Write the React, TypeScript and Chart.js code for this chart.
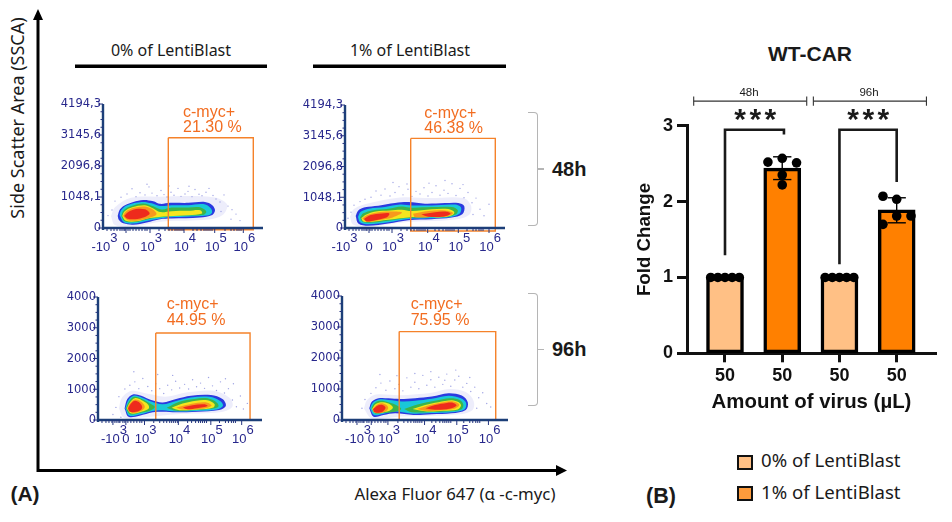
import React, { useEffect, useRef } from "react";
import { Chart, registerables } from "chart.js";

Chart.register(...registerables);

type Pt = [number, number];

// flow plots: x is display channel (biexponential axis), y is SSC-A
const xMinorTicks = [4, 8, 11, 14, 17, 19, 21, 22, 25, 27, 30, 33, 36, 39, 42, 44, 56, 62, 66, 69, 72, 74, 76, 78, 80, 90, 94, 98, 101, 103, 105, 107, 109, 122, 128, 131, 134, 136, 138];

const yTicksTop = [0, 1048.1, 2096.8, 3145.6, 4194.3];
const yTickLabelsTop = ["0", "1048,1", "2096,8", "3145,6", "4194,3"];
const yTicksBottom = [0, 1000, 2000, 3000, 4000];
const yTickLabelsBottom = ["0", "1000", "2000", "3000", "4000"];

const xTicksP1 = [0.3, 23, 47, 81, 111.7, 140.3];
const xTicksP2 = [-1.7, 24, 47, 82.7, 113.3, 144];
const xTicksP3 = [15, 28, 46.7, 80.7, 113.3, 144.3];
const xTicksP4 = [15, 29.3, 46, 82.7, 115, 146.7];
const xTickLabels: [string, string][] = [["-10", "3"], ["0", ""], ["10", "3"], ["10", "4"], ["10", "5"], ["10", "6"]];

const gateP1: Pt[] = [[65.3, 3052], [150.3, 3052], [150.3, -60], [65.3, -60], [65.3, 3052]];
const gateP2: Pt[] = [[65.7, 3055], [150.3, 3055], [150.3, -100], [65.7, -100], [65.7, 3055]];
const gateP3: Pt[] = [[58, 2829], [152.7, 2829], [152.7, 0], [58, 0], [58, 2829]];
const gateP4: Pt[] = [[57.3, 2851], [154, 2851], [154, 0], [57.3, 0], [57.3, 2851]];

const gatePercent = ["21.30 %", "46.38 %", "44.95 %", "75.95 %"];

// density outlines, low to high: halo, blue, cyan, green, yellow, orange, red
const densityColors = ["rgba(130,130,225,0.14)", "#2a3ae0", "#19c8d8", "#3cb54a", "#f5e61e", "#f8981d", "#ee2a1c"];

const p1Density: Pt[][][] = [
  [[[8, 400], [12, 700], [28, 1020], [55, 1060], [110, 1040], [124, 800], [120, 450], [105, 290], [60, 220], [30, 50], [12, 100]]],
  [[[14.7, 410], [17, 630], [22, 773], [30.3, 883], [40.3, 949], [50.3, 905], [57, 817], [67, 850], [85.3, 850], [102, 883], [109.3, 773], [112, 597], [109.3, 443], [97, 355], [68.7, 322], [57, 300], [43.7, 190], [30.3, 113], [20.3, 157], [16, 267]]],
  [[[16.5, 443], [18.3, 610], [24.3, 770], [38.7, 880], [48.7, 835], [57, 745], [68.7, 770], [85.3, 770], [100.3, 810], [107.5, 680], [109, 520], [104, 420], [82, 380], [62, 345], [43.7, 235], [30.3, 150], [21, 195]]],
  [[[18.3, 410], [20.3, 585], [27.7, 735], [40.3, 830], [50.3, 735], [58.7, 625], [68.7, 690], [85.3, 690], [97, 700], [103.3, 560], [100.7, 450], [82, 420], [63.7, 385], [45.3, 300], [32, 200], [21.7, 225]]],
  [[[19.3, 410], [21.7, 565], [29.3, 700], [42, 770], [50.3, 660], [57, 540], [68.7, 570], [85.3, 580], [97.3, 600], [99, 487], [85.3, 430], [65.3, 395], [47, 335], [33.7, 225], [22.7, 245]]],
  [[[20, 410], [23.2, 565], [31, 685], [42, 725], [50.2, 615], [53.5, 465], [48, 360], [35.3, 255], [25, 265]]],
  [[[21.2, 410], [25, 535], [33, 640], [42, 630], [46.7, 487], [42, 375], [32, 300], [24.8, 310]]],
];

const p2Density: Pt[][][] = [
  [[[5, 380], [9, 650], [25, 850], [55, 1040], [85, 1020], [118, 1020], [126, 760], [124, 440], [108, 280], [60, 200], [24, 40], [8, 120]]],
  [[[10.7, 410], [13.3, 597], [20, 707], [33.3, 762], [50, 850], [63.3, 883], [80, 828], [100, 850], [113.3, 850], [119.3, 740], [117.3, 465], [106.7, 355], [86.7, 300], [63.3, 267], [43.3, 157], [23.3, 80], [13.3, 157]]],
  [[[13, 377], [15.7, 550], [24, 660], [40, 715], [55, 800], [66.7, 770], [86.7, 770], [110, 800], [116, 700], [114.5, 487], [104.3, 370], [83.3, 335], [63.3, 310], [43.3, 200], [23.3, 130], [15, 200]]],
  [[[15, 355], [18.3, 500], [27.3, 600], [43.3, 655], [56.7, 735], [66.7, 690], [86.7, 712], [106.7, 712], [112.7, 610], [111, 465], [101, 372], [83.3, 370], [63.3, 338], [43.3, 245], [25, 178], [17.3, 225]]],
  [[[16.3, 333], [20.7, 455], [30.7, 565], [45, 600], [56.7, 625], [66.7, 580], [86.7, 640], [103.3, 645], [109.3, 540], [107, 435], [97.7, 372], [80, 372], [63.3, 360], [43.3, 280], [25, 205], [18.3, 225]]],
  [
    [[17.3, 322], [22.3, 440], [32.3, 525], [45, 560], [57, 525], [47.7, 360], [33.3, 268], [22.3, 215]],
    [[68, 487], [83.3, 580], [100, 600], [108, 515], [101, 395], [83.3, 370], [70, 370]],
  ],
  [
    [[19, 311], [25.7, 440], [36.7, 495], [44.3, 495], [42, 370], [30, 268], [21.7, 225]],
    [[76.3, 465], [90, 535], [101.7, 555], [105.5, 487], [99.3, 395], [83.3, 382]],
  ],
];

const p3Density: Pt[][][] = [
  [[[21, 370], [24, 720], [34, 950], [50, 850], [68, 760], [90, 900], [116, 950], [132, 720], [135, 440], [124, 260], [80, 190], [40, 70], [26, 70]]],
  [[[26.7, 378], [29.4, 680], [35, 832], [43.4, 788], [53.4, 648], [65, 572], [78.4, 680], [93.4, 788], [113.4, 810], [125, 680], [128.4, 464], [121.7, 324], [100, 270], [78.4, 248], [65, 270], [55, 248], [41.7, 140], [30.7, 108]]],
  [[[27.5, 378], [30.2, 630], [35.6, 790], [44, 735], [53.4, 600], [65, 510], [78.4, 620], [93.4, 735], [112, 755], [122.7, 620], [125.5, 464], [119.4, 345], [98.4, 295], [78.4, 275], [65, 315], [55, 295], [41.7, 180], [31.5, 140]]],
  [
    [[28.2, 378], [31.2, 605], [36.4, 755], [44, 680], [52.7, 525], [57, 421], [52.7, 310], [41.7, 228], [32.2, 185]],
    [[69, 400], [81.7, 595], [96.7, 685], [110, 705], [119.4, 565], [121, 443], [114.4, 365], [95, 320], [78.4, 298]],
  ],
  [
    [[28.9, 378], [31.9, 565], [37, 710], [43.9, 645], [50.4, 500], [51, 378], [44.4, 280], [33.5, 208]],
    [[74, 400], [85, 535], [98.4, 630], [110, 640], [117, 520], [116, 410], [100, 342], [81.7, 320]],
  ],
  [
    [[29.5, 378], [32.2, 545], [37.2, 665], [43, 600], [47, 432], [43.7, 300], [35, 230]],
    [[78.5, 400], [88.4, 485], [100, 565], [110, 565], [114, 464], [104.4, 362], [85, 340]],
  ],
  [
    [[30.2, 378], [33, 525], [37.2, 625], [42, 555], [44.4, 410], [41.5, 300], [35, 250], [31.6, 275]],
    [[85.2, 410], [95, 480], [106.7, 510], [110, 454], [99.4, 385], [90, 350]],
  ],
];

const p4Density: Pt[][][] = [
  [[[22, 370], [25, 640], [34, 820], [58, 800], [90, 880], [108, 1000], [124, 900], [132, 600], [130, 300], [110, 160], [60, 110], [30, 50]]],
  [[[27.3, 378], [30, 594], [36.6, 702], [46.6, 702], [58.3, 680], [73.3, 702], [90, 756], [106.6, 864], [120, 788], [126, 572], [124, 324], [110, 216], [90, 184], [71.6, 162], [53.3, 216], [41.6, 162], [31.6, 108]]],
  [[[28.1, 378], [30.8, 560], [37, 665], [46.6, 645], [60, 600], [73.3, 620], [90, 685], [106.6, 785], [119, 705], [124.3, 555], [122.6, 340], [109.3, 250], [88.3, 225], [71.6, 205], [53.3, 275], [41.6, 205], [32.1, 160]]],
  [
    [[29.5, 378], [32.1, 535], [38, 620], [46.6, 575], [56, 455], [59.3, 356], [54.3, 278], [41.6, 230], [33.5, 208]],
    [[62.3, 356], [76.6, 510], [93.3, 620], [108.3, 705], [118.3, 640], [121.6, 495], [119.3, 342], [105, 275], [86.6, 252], [70, 252]],
  ],
  [
    [[30.1, 356], [33.5, 505], [39, 575], [46.5, 530], [51, 410], [47.6, 298], [38.3, 230], [32.8, 230]],
    [[70.6, 356], [83.3, 485], [96.6, 575], [110, 640], [117, 570], [119.3, 464], [116, 342], [101.6, 295], [85, 275]],
  ],
  [
    [[30.8, 346], [34.5, 480], [39.1, 540], [44.5, 485], [46.3, 378], [42.6, 255], [35, 222]],
    [[75.1, 356], [88.3, 485], [101.6, 575], [111.6, 595], [117.5, 490], [112.6, 362], [96.6, 308], [83.3, 296]],
  ],
  [
    [[31.1, 346], [35.3, 462], [40, 490], [43.6, 400], [41, 278], [35, 232], [32.1, 255]],
    [[83.5, 378], [93.3, 485], [105, 552], [111.6, 552], [114.8, 464], [107.6, 362], [93.3, 330]],
  ],
];

// stray events outside the dense population, read by eye
const p1Strays: Pt[] = [[5, 420], [9, 610], [12, 910], [18, 1040], [24, 1150], [29, 1330], [33, 1060], [37, 1190], [42, 1120], [46, 1390], [49, 1180], [54, 1090], [58, 1270], [61, 1130], [64, 1050], [68, 1210], [71, 1110], [75, 1340], [78, 1070], [82, 1150], [85, 1240], [89, 1060], [92, 1300], [96, 1140], [99, 1090], [103, 1210], [106, 1340], [110, 1100], [113, 980], [117, 880], [121, 1120], [125, 740], [129, 620], [133, 470], [118, 560], [128, 300], [137, 250], [44, 1480], [66, 1420], [86, 1410]];
const p2Strays: Pt[] = [[3, 330], [6, 540], [9, 780], [15, 900], [20, 980], [26, 1050], [31, 1260], [36, 1120], [40, 1330], [45, 1090], [50, 1210], [54, 1410], [58, 1130], [63, 1320], [67, 1080], [71, 1250], [75, 1160], [79, 1370], [83, 1090], [87, 1210], [91, 1440], [95, 1120], [99, 1290], [103, 1180], [107, 1510], [111, 1110], [115, 1350], [119, 1030], [123, 1210], [127, 860], [131, 1020], [135, 640], [139, 420], [128, 460], [144, 810], [84, 1530], [62, 1500], [100, 1620], [118, 1480], [48, 1550]];
const p3Strays: Pt[] = [[18, 410], [21, 760], [27, 1010], [32, 1130], [37, 1240], [41, 1020], [45, 1350], [50, 1090], [54, 950], [58, 1180], [62, 1020], [66, 860], [70, 1130], [74, 980], [78, 1260], [82, 1040], [87, 1160], [91, 1010], [95, 1310], [99, 1080], [103, 1200], [107, 1030], [111, 1380], [115, 1110], [119, 960], [123, 1240], [127, 880], [131, 1020], [135, 650], [139, 430], [143, 780], [146, 360], [36, 1570], [60, 1480], [128, 1340], [136, 1180], [150, 540], [15, 180], [23, 90], [75, 1450]];
const p4Strays: Pt[] = [[20, 380], [23, 660], [29, 860], [34, 1040], [39, 1190], [44, 960], [48, 1260], [53, 1010], [57, 1150], [61, 940], [65, 1360], [69, 1060], [73, 1220], [77, 1010], [81, 1440], [85, 1120], [89, 1300], [93, 1060], [97, 1380], [101, 1150], [105, 1480], [109, 1090], [113, 1290], [117, 1410], [121, 1060], [125, 1180], [129, 920], [133, 1060], [137, 720], [141, 880], [145, 530], [135, 380], [128, 1370], [149, 420], [89, 1560], [114, 1610], [73, 1500], [55, 1430], [38, 1470], [103, 1280]];

// bar chart
const barPositions = [1, 2, 3, 4];
const barCategories = ["50", "50", "50", "50"];
const barValues = [1, 2.44, 1, 1.89];
const barColors = ["#ffc085", "#ff8000", "#ffc085", "#ff8000"];

const dotsX = [0.75, 0.875, 1, 1.125, 1.25, 1.75, 2, 2.25, 2, 2, 2.75, 2.875, 3, 3.125, 3.25, 3.76, 4, 4.25, 4, 3.76];
const dotsY = [1, 1, 1, 1, 1, 2.52, 2.57, 2.51, 2.35, 2.22, 1, 1, 1, 1, 1, 2.07, 2.03, 1.81, 1.81, 1.7];

const errorLow = [2.29, 1.72];
const errorHigh = [2.59, 2.05];
const errorX = [2, 4];

const sigLeft: Pt[] = [[1, 1.293], [1, 2.947], [2.03, 2.947], [2.03, 2.885]];
const sigRight: Pt[] = [[3, 1.175], [3, 2.947], [4, 2.947], [4, 2.258]];
const span48: Pt[][] = [[[0.453, 3.264], [0.453, 3.384]], [[0.453, 3.324], [2.428, 3.324]], [[2.428, 3.264], [2.428, 3.384]]];
const span96: Pt[][] = [[[2.544, 3.264], [2.544, 3.384]], [[2.544, 3.324], [4.52, 3.324]], [[4.52, 3.264], [4.52, 3.384]]];

const toXY = (pts: Pt[]) => pts.map(([x, y]) => ({ x, y }));

const axisColor = "#1c3f78";
const tickTextColor = "#27278c";

// draws the FCS-style axes with long and short ticks, and the raised exponents
const flowAxes = {
  id: "flowAxes",
  afterDraw(chart: any, _args: any, opts: any) {
    const { ctx, chartArea, scales } = chart;
    const { left, right, bottom, top } = chartArea;
    ctx.save();
    ctx.strokeStyle = axisColor;
    ctx.lineWidth = 2.4;
    ctx.beginPath();
    ctx.moveTo(left, top);
    ctx.lineTo(left, bottom + 2);
    ctx.moveTo(left - 1, bottom);
    ctx.lineTo(right, bottom);
    ctx.stroke();

    ctx.lineWidth = 1;
    ctx.strokeStyle = "#24357f";
    opts.yMinor.forEach((v: number) => {
      const p = scales.y.getPixelForValue(v);
      ctx.beginPath();
      ctx.moveTo(left - 2.5, p);
      ctx.lineTo(left, p);
      ctx.stroke();
    });
    opts.yTicks.forEach((v: number) => {
      const p = scales.y.getPixelForValue(v);
      ctx.beginPath();
      ctx.moveTo(left - 5, p);
      ctx.lineTo(left, p);
      ctx.stroke();
    });
    xMinorTicks.forEach((v) => {
      const p = scales.x.getPixelForValue(v);
      ctx.beginPath();
      ctx.moveTo(p, bottom);
      ctx.lineTo(p, bottom + 3);
      ctx.stroke();
    });
    opts.xTicks.forEach((v: number) => {
      const p = scales.x.getPixelForValue(v);
      if (p < left + 2) return;
      ctx.beginPath();
      ctx.moveTo(p, bottom);
      ctx.lineTo(p, bottom + 5);
      ctx.stroke();
    });

    ctx.fillStyle = tickTextColor;
    ctx.font = "11.5px 'DejaVu Sans'";
    ctx.textAlign = "right";
    ctx.textBaseline = "middle";
    opts.yTicks.forEach((v: number, i: number) => {
      ctx.fillText(opts.yLabels[i], left - 2, scales.y.getPixelForValue(v) + 0.5);
    });

    ctx.textAlign = "left";
    ctx.font = "13px 'Liberation Sans'";
    xTickLabels.forEach(([base, exp], i) => {
      const p = scales.x.getPixelForValue(opts.xTicks[i]);
      const w = ctx.measureText(base).width;
      ctx.fillText(base, p - (w + (exp ? 5 : 0)) / 2, bottom + 19);
      if (exp) ctx.fillText(exp, p - (w + 5) / 2 + w, bottom + 10);
    });
    ctx.restore();
  },
};

interface FlowPlotProps {
  box: { left: number; top: number; width: number; height: number };
  yMax: number;
  xTicks: number[];
  yTicks: number[];
  yLabels: string[];
  yMinor: number[];
  gate: Pt[];
  density: Pt[][][];
  strays: Pt[];
}

const PAD_LEFT = 58;
const PAD_BOTTOM = 34;

const FlowPlot: React.FC<FlowPlotProps> = ({ box, yMax, xTicks, yTicks, yLabels, yMinor, gate, density, strays }) => {
  const ref = useRef<HTMLCanvasElement | null>(null);

  useEffect(() => {
    if (!ref.current) return;
    const fills: any[] = [];
    density.forEach((polys, level) => {
      polys.forEach((poly) => {
        fills.push({
          data: toXY([...poly, poly[0]]),
          showLine: true,
          fill: "shape",
          backgroundColor: densityColors[level],
          borderWidth: 0,
          pointRadius: 0,
          tension: 0.35,
        });
      });
    });
    const chart = new Chart(ref.current, {
      type: "scatter",
      data: {
        datasets: [
          { data: toXY(gate), showLine: true, borderColor: "#f5822a", borderWidth: 1.4, pointRadius: 0, clip: false },
          { data: toXY(strays), backgroundColor: "#a0a4e4", pointRadius: 0.7, borderWidth: 0 },
          ...fills.reverse(),
        ],
      },
      options: {
        responsive: false,
        animation: false,
        layout: { padding: { left: PAD_LEFT, top: 8, right: 6, bottom: PAD_BOTTOM } },
        scales: {
          x: { type: "linear", display: false, min: 0, max: box.width },
          y: { type: "linear", display: false, min: 0, max: yMax },
        },
        plugins: {
          legend: { display: false },
          tooltip: { enabled: false },
          flowAxes: { xTicks, yTicks, yLabels, yMinor },
        } as any,
      },
      plugins: [flowAxes],
    } as any);
    return () => chart.destroy();
  }, []);

  return (
    <canvas
      ref={ref}
      width={PAD_LEFT + box.width + 6}
      height={8 + box.height + PAD_BOTTOM}
      style={{ position: "absolute", left: box.left - PAD_LEFT, top: box.top - 8, filter: "blur(0.35px)" }}
    />
  );
};

const BarPlot: React.FC = () => {
  const ref = useRef<HTMLCanvasElement | null>(null);

  useEffect(() => {
    if (!ref.current) return;
    const lineSet = (pts: Pt[], color: string, width: number) => ({
      type: "scatter",
      data: toXY(pts),
      showLine: true,
      borderColor: color,
      borderWidth: width,
      pointRadius: 0,
      clip: false,
    });
    const errorSets: any[] = [];
    errorX.forEach((x, i) => {
      errorSets.push(lineSet([[x, errorLow[i]], [x, errorHigh[i]]], "#000", 1.4));
      errorSets.push(lineSet([[x - 0.16, errorLow[i]], [x + 0.16, errorLow[i]]], "#000", 1.4));
      errorSets.push(lineSet([[x - 0.16, errorHigh[i]], [x + 0.16, errorHigh[i]]], "#000", 1.4));
    });
    const chart = new Chart(ref.current, {
      type: "bar",
      data: {
        datasets: [
          ...errorSets,
          {
            type: "scatter",
            data: dotsX.map((x, i) => ({ x, y: dotsY[i] })),
            backgroundColor: "#000",
            pointRadius: 4.8,
            borderWidth: 0,
            clip: false,
          },
          lineSet(sigLeft, "#1a1a1a", 2.6),
          lineSet(sigRight, "#1a1a1a", 2.6),
          ...span48.map((s) => lineSet(s, "#333", 1.1)),
          ...span96.map((s) => lineSet(s, "#333", 1.1)),
          {
            data: barPositions.map((x, i) => ({ x, y: barValues[i] })),
            backgroundColor: barColors,
            borderColor: "#000",
            borderWidth: 3.5,
            borderSkipped: false,
            barThickness: 37,
            grouped: false,
          },
        ],
      },
      options: {
        responsive: false,
        animation: false,
        layout: { padding: { top: 45.7, right: 16, left: 0, bottom: 0 } },
        scales: {
          x: {
            type: "linear",
            offset: false,
            min: 0.336,
            max: 4.687,
            afterFit: (s: any) => {
              s.height = 61.7;
            },
            afterBuildTicks: (s: any) => {
              s.ticks = barPositions.map((value) => ({ value }));
            },
            ticks: {
              autoSkip: false,
              maxRotation: 0,
              padding: 3,
              color: "#111",
              font: { family: "Liberation Sans", size: 18, weight: "bold" },
              callback: (_v: any, i: number) => barCategories[i],
            },
            grid: { offset: false, drawOnChartArea: false, tickLength: 9, tickWidth: 3, tickColor: "#111" },
            border: { color: "#111", width: 3 },
            title: {
              display: true,
              text: "Amount of virus (µL)",
              color: "#111",
              padding: { top: 0, bottom: 0 },
              font: { family: "Liberation Sans", size: 20.4, weight: "bold" },
            },
          },
          y: {
            min: 0,
            max: 3,
            afterFit: (s: any) => {
              s.width = 57;
            },
            ticks: {
              stepSize: 1,
              padding: 4,
              color: "#111",
              font: { family: "Liberation Sans", size: 18, weight: "bold" },
            },
            grid: { drawOnChartArea: false, tickLength: 10, tickWidth: 3, tickColor: "#111" },
            border: { color: "#111", width: 3 },
            title: {
              display: true,
              text: "Fold Change",
              color: "#111",
              padding: { top: 4, bottom: 0 },
              font: { family: "Liberation Sans", size: 18.7, weight: "bold" },
            },
          },
        },
        plugins: { legend: { display: false }, tooltip: { enabled: false } },
      },
    } as any);
    return () => chart.destroy();
  }, []);

  return <canvas ref={ref} width={322} height={335} style={{ position: "absolute", left: 630, top: 80 }} />;
};

const Txt: React.FC<{ x: number; y: number; s?: React.CSSProperties; center?: boolean; children: React.ReactNode }> = ({ x, y, s, center, children }) => (
  <div
    style={{
      position: "absolute",
      left: x,
      top: y,
      whiteSpace: "nowrap",
      lineHeight: 1,
      fontFamily: "'Noto Sans'",
      color: "#1a1a1a",
      transform: center ? "translate(-50%,-50%)" : "translateY(-50%)",
      ...s,
    }}
  >
    {children}
  </div>
);

const GrayBracket: React.FC<{ top: number; height: number }> = ({ top, height }) => (
  <>
    <div style={{ position: "absolute", left: 528, top, width: 9, height, borderTop: "1.5px solid #b5b5b5", borderRight: "1.5px solid #b5b5b5", borderBottom: "1.5px solid #b5b5b5", borderTopRightRadius: 4, borderBottomRightRadius: 4 }} />
    <div style={{ position: "absolute", left: 538, top: top + height / 2, width: 6, height: 1.5, background: "#b5b5b5" }} />
  </>
);

const orange = { color: "#f26d21", fontFamily: "'Liberation Sans'", fontSize: 16 };
const boldArial = { fontFamily: "'Liberation Sans'", fontWeight: "bold" };

const App: React.FC = () => (
  <div style={{ position: "absolute", left: 0, top: 0, width: 952, height: 522, background: "#fff", overflow: "hidden" }}>
    <svg width={952} height={522} style={{ position: "absolute", left: 0, top: 0 }}>
      <path d="M38 470.5V18M36.5 470.5H558" stroke="#000" strokeWidth={3} fill="none" />
      <path d="M33 20L38 9L43 20Z" fill="#000" />
      <path d="M556 465L567 470.5L556 476Z" fill="#000" />
      <path d="M75 66.3H267M313 66.3H506" stroke="#000" strokeWidth={3.6} />
    </svg>

    <FlowPlot box={{ left: 103, top: 104, width: 160, height: 124 }} yMax={4194.3} xTicks={xTicksP1} yTicks={yTicksTop} yLabels={yTickLabelsTop} yMinor={[262, 524, 786, 1310, 1572, 1834, 2358, 2621, 2883, 3407, 3669, 3932]} gate={gateP1} density={p1Density} strays={p1Strays} />
    <FlowPlot box={{ left: 345, top: 105, width: 160, height: 123.3 }} yMax={4194.3} xTicks={xTicksP2} yTicks={yTicksTop} yLabels={yTickLabelsTop} yMinor={[262, 524, 786, 1310, 1572, 1834, 2358, 2621, 2883, 3407, 3669, 3932]} gate={gateP2} density={p2Density} strays={p2Strays} />
    <FlowPlot box={{ left: 98.3, top: 296.7, width: 164.7, height: 123.3 }} yMax={4000} xTicks={xTicksP3} yTicks={yTicksBottom} yLabels={yTickLabelsBottom} yMinor={[250, 500, 750, 1250, 1500, 1750, 2250, 2500, 2750, 3250, 3500, 3750]} gate={gateP3} density={p3Density} strays={p3Strays} />
    <FlowPlot box={{ left: 341.7, top: 296, width: 166.3, height: 124 }} yMax={4000} xTicks={xTicksP4} yTicks={yTicksBottom} yLabels={yTickLabelsBottom} yMinor={[250, 500, 750, 1250, 1500, 1750, 2250, 2500, 2750, 3250, 3500, 3750]} gate={gateP4} density={p4Density} strays={p4Strays} />

    <Txt x={183} y={112} s={orange}>c-myc+</Txt>
    <Txt x={183} y={127} s={orange}>{gatePercent[0]}</Txt>
    <Txt x={424.3} y={113} s={orange}>c-myc+</Txt>
    <Txt x={424.3} y={128} s={orange}>{gatePercent[1]}</Txt>
    <Txt x={166.7} y={304} s={orange}>c-myc+</Txt>
    <Txt x={166.7} y={320} s={orange}>{gatePercent[2]}</Txt>
    <Txt x={410.7} y={304} s={orange}>c-myc+</Txt>
    <Txt x={410.7} y={320} s={orange}>{gatePercent[3]}</Txt>

    <Txt x={171} y={50} center s={{ fontSize: 16 }}>0% of LentiBlast</Txt>
    <Txt x={410} y={50} center s={{ fontSize: 16 }}>1% of LentiBlast</Txt>
    <Txt x={17} y={118} center s={{ fontSize: 18, transform: "translate(-50%,-50%) rotate(-90deg)" }}>Side Scatter Area (SSCA)</Txt>
    <Txt x={455} y={494} center s={{ fontSize: 16.8 }}>Alexa Fluor 647 (α -c-myc)</Txt>
    <Txt x={25} y={493} center s={{ ...boldArial, fontSize: 21 }}>(A)</Txt>
    <Txt x={661} y={497} center s={{ ...boldArial, fontSize: 21.5 }}>(B)</Txt>

    <GrayBracket top={112} height={112} />
    <GrayBracket top={293} height={111} />
    <Txt x={552} y={169} s={{ ...boldArial, fontSize: 20 }}>48h</Txt>
    <Txt x={552} y={349} s={{ ...boldArial, fontSize: 20 }}>96h</Txt>

    <BarPlot />

    <Txt x={810} y={53} center s={{ ...boldArial, fontSize: 21 }}>WT-CAR</Txt>
    <Txt x={749} y={93} center s={{ fontFamily: "'Liberation Sans'", fontSize: 11.5 }}>48h</Txt>
    <Txt x={869} y={93} center s={{ fontFamily: "'Liberation Sans'", fontSize: 11.5 }}>96h</Txt>
    <Txt x={757} y={119} center s={{ ...boldArial, fontSize: 30, letterSpacing: 3.5 }}>***</Txt>
    <Txt x={870} y={119} center s={{ ...boldArial, fontSize: 30, letterSpacing: 3.5 }}>***</Txt>

    <div style={{ position: "absolute", left: 737, top: 455, width: 12, height: 11, background: "#ffc085", border: "2.5px solid #111" }} />
    <Txt x={761} y={460} s={{ fontSize: 18.6 }}>0% of LentiBlast</Txt>
    <div style={{ position: "absolute", left: 737, top: 486, width: 12, height: 11, background: "#fd9b3c", border: "2.5px solid #111" }} />
    <Txt x={761} y={491.5} s={{ fontSize: 18.6 }}>1% of LentiBlast</Txt>
  </div>
);

export default App;
